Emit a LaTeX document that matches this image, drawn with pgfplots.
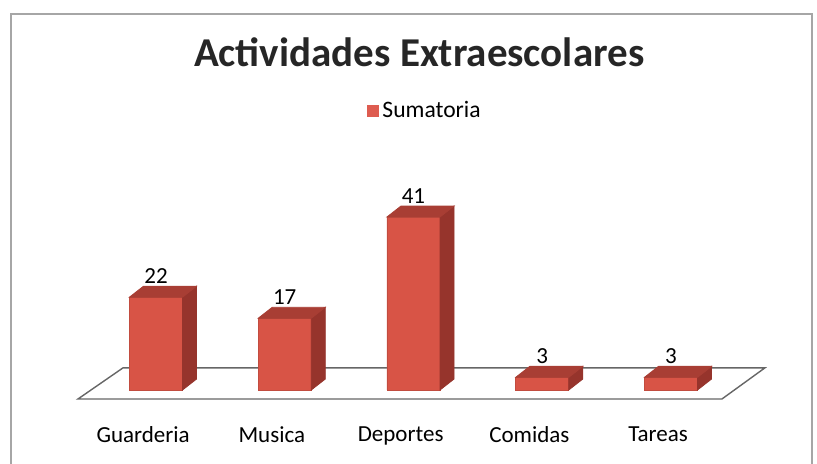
\documentclass[border=0pt]{standalone}
\usepackage{pgfplots}
\pgfplotsset{compat=1.18}
\usepackage{fontspec}
\setmainfont{Carlito}
\definecolor{barfront}{RGB}{216,84,70}
\definecolor{bartop}{RGB}{168,62,52}
\definecolor{barside}{RGB}{150,52,44}
\definecolor{legred}{RGB}{222,92,80}
\begin{document}
\begin{tikzpicture}[x=1pt,y=1pt]
\useasboundingbox (0,0) rectangle (408.5,232);
\draw[gray!70, line width=0.8pt] (5.5,0) -- (5.5,225) -- (406,225) -- (406,0);
\begin{axis}[
  at={(29.72pt,30.67pt)}, anchor=south west,
  scale only axis, width=360.48pt, height=101.28pt,
  xmin=-0.75, xmax=4.85, ymin=-3, ymax=45,
  axis x line*=bottom, axis y line=none,
  x axis line style={draw=none},
  major tick length=0pt,
  xtick={-0.1,0.9,1.9,2.9,3.9},
  xticklabels={Guarderia,Musica,Deportes,Comidas,Tareas},
  xticklabel style={font=\fontsize{11.5}{13}\selectfont, yshift=-8.5pt},
  title={Actividades Extraescolares},
  title style={at={(0.499,1.60)}, anchor=base, font=\fontsize{20.5}{24}\selectfont\bfseries, text=black!85},
  legend style={at={(0.508,1.44)}, anchor=center, draw=none, fill=none,
    font=\fontsize{11.8}{13}\selectfont, inner sep=0pt},
  legend image code/.code={\fill[legred] (0pt,-2.8pt) rectangle (5.6pt,2.8pt);},
  /pgf/number format/assume math mode=true,
  clip=false,
]
% floor
\addplot[draw=gray!80!black, line width=0.7pt, fill=white, forget plot]
  coordinates {(-0.606,-2.13) (4.396,-2.13) (4.73,5.25) (-0.256,5.25)} --cycle;
% front faces
\addplot[ybar, bar width=0.412, fill=barfront, draw=barfront!90!black, line width=0.3pt]
  coordinates {(0,22) (1,17) (2,41) (3,3) (4,3)};
\addlegendentry{Sumatoria}
% side faces
\addplot[fill=barside, draw=barside, forget plot] coordinates {(0.206,0) (0.315,2.6) (0.315,24.6) (0.206,22)} --cycle;
\addplot[fill=barside, draw=barside, forget plot] coordinates {(1.206,0) (1.315,2.6) (1.315,19.6) (1.206,17)} --cycle;
\addplot[fill=barside, draw=barside, forget plot] coordinates {(2.206,0) (2.315,2.6) (2.315,43.6) (2.206,41)} --cycle;
\addplot[fill=barside, draw=barside, forget plot] coordinates {(3.206,0) (3.315,2.6) (3.315,5.6) (3.206,3)} --cycle;
\addplot[fill=barside, draw=barside, forget plot] coordinates {(4.206,0) (4.315,2.6) (4.315,5.6) (4.206,3)} --cycle;
% top faces
\addplot[fill=bartop, draw=bartop, forget plot] coordinates {(-0.206,22) (-0.097,24.6) (0.315,24.6) (0.206,22)} --cycle;
\addplot[fill=bartop, draw=bartop, forget plot] coordinates {(0.794,17) (0.903,19.6) (1.315,19.6) (1.206,17)} --cycle;
\addplot[fill=bartop, draw=bartop, forget plot] coordinates {(1.794,41) (1.903,43.6) (2.315,43.6) (2.206,41)} --cycle;
\addplot[fill=bartop, draw=bartop, forget plot] coordinates {(2.794,3) (2.903,5.6) (3.315,5.6) (3.206,3)} --cycle;
\addplot[fill=bartop, draw=bartop, forget plot] coordinates {(3.794,3) (3.903,5.6) (4.315,5.6) (4.206,3)} --cycle;
% value labels
\addplot[draw=none, mark=none, forget plot, nodes near coords, point meta=explicit,
  every node near coord/.append style={font=\fontsize{11.5}{13}\selectfont, anchor=south, inner sep=1pt}]
  coordinates {(0,24.6) [22] (1,19.6) [17] (2,43.6) [41] (3,5.6) [3] (4,5.6) [3]};
\end{axis}
\end{tikzpicture}
\end{document}
